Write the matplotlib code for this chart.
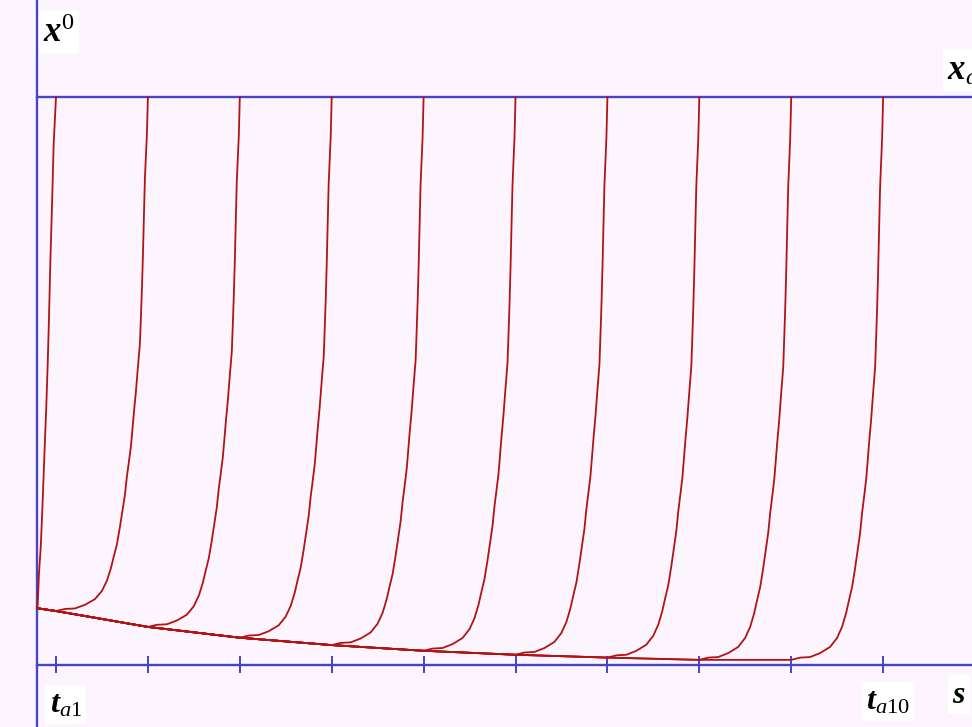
import numpy as np
import matplotlib.pyplot as plt

plt.rcParams['mathtext.fontset'] = 'custom'
plt.rcParams['mathtext.rm'] = 'Liberation Serif'
plt.rcParams['mathtext.it'] = 'Liberation Serif:italic'
plt.rcParams['mathtext.bf'] = 'Liberation Serif:italic:bold'

# tick positions t_a1 .. t_a10 (s axis)
ticks = [1, 2, 3, 4, 5, 6, 7, 8, 9, 10]
s_axis = 0.793  # where the vertical axis crosses

# lower envelope shared by all trajectories (x^0 vs s)
base_s = [0.793, 1, 2, 3, 4, 5, 6, 7, 8, 9]
base_v = [0.100, 0.095, 0.067, 0.048, 0.035, 0.025, 0.018, 0.013, 0.009, 0.009]

# rise profile: offset from its end tick, fraction of rise
rise_ds = [-1.00, -0.903, -0.794, -0.686, -0.577, -0.501, -0.446, -0.403, -0.370,
           -0.337, -0.305, -0.277, -0.250, -0.229, -0.207, -0.185, -0.169, -0.152,
           -0.131, -0.109, -0.087, -0.076, -0.065, -0.054, -0.044, -0.033, -0.011, 0.0]
rise_g = [0.0, 0.004, 0.005, 0.012, 0.023, 0.039, 0.059, 0.083, 0.107,
          0.130, 0.163, 0.195, 0.226, 0.261, 0.290, 0.320, 0.352, 0.387,
          0.426, 0.474, 0.520, 0.572, 0.627, 0.693, 0.764, 0.840, 0.927, 1.0]

# first trajectory starts right on the axis
first_s = [0.793, 0.799, 0.815, 0.834, 0.848, 0.862, 0.877, 0.894, 0.910, 0.924,
           0.938, 0.956, 0.975, 1.0]
first_v = [0.100, 0.102, 0.162, 0.208, 0.261, 0.320, 0.384, 0.454, 0.532, 0.613,
           0.708, 0.806, 0.919, 1.0]

bg = '#fdf5fd'
blue = '#4646c4'
red = '#b01414'

fig = plt.figure(figsize=(9.72, 7.27), dpi=100)
fig.patch.set_facecolor(bg)
ax = fig.add_axes([0, 0, 1, 1])
ax.set_facecolor(bg)
xmin, xmax = 0.3906, 10.967
ax.set_xlim(xmin, xmax)
ax.set_ylim(-0.1092, 1.1708)
ax.axis('off')

# axes
ax.axvline(s_axis, color=blue, lw=1.7)
ax.plot([s_axis, xmax], [0, 0], color=blue, lw=1.7)
ax.plot([s_axis, xmax], [1, 1], color=blue, lw=1.7)
ax.vlines(ticks, -0.015, 0.015, color=blue, lw=1.4)

# trajectories
ax.plot(first_s, first_v, color=red, lw=1.3)
rise_ds = np.array(rise_ds)
rise_g = np.array(rise_g)
for k in ticks[1:]:
    i = base_s.index(k - 1)
    b = base_v[i]
    xs = list(base_s[:i + 1]) + list(k + rise_ds[1:])
    ys = list(base_v[:i + 1]) + list(b + (1 - b) * rise_g[1:])
    ax.plot(xs, ys, color=red, lw=1.3)

box = dict(facecolor='white', edgecolor='none', pad=3)
ax.text(0.862, 1.097, r'$\mathbf{x}^{0}$', fontsize=25, bbox=box)
ax.text(10.70, 1.03, r'$\mathbf{x}_{\mathit{a}}$', fontsize=25, bbox=box, clip_on=False)
ax.text(0.930, -0.0845, r'$\mathbf{t}_{\mathit{a}1}$', fontsize=23, bbox=box)
ax.text(9.810, -0.079, r'$\mathbf{t}_{\mathit{a}10}$', fontsize=23, bbox=box)
ax.text(10.75, -0.067, r'$\mathbf{s}$', fontsize=23, bbox=box)

fig.savefig('out.png', dpi=100, facecolor=bg)
